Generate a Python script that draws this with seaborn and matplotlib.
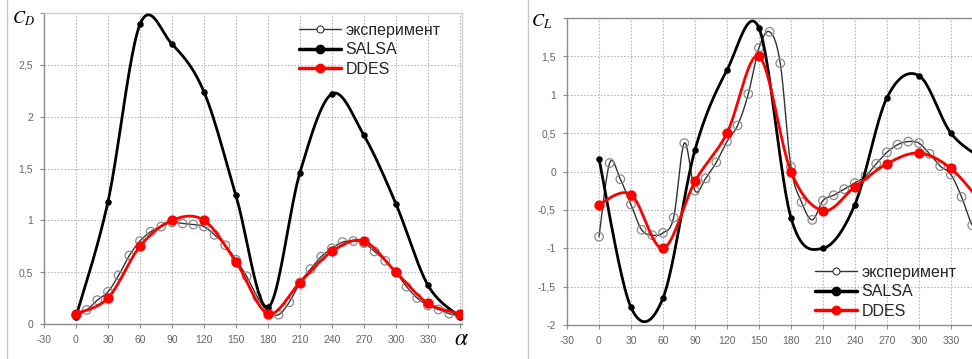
import numpy as np
import pandas as pd
import matplotlib
matplotlib.use("Agg")
import matplotlib.pyplot as plt
import seaborn as sns
from matplotlib.lines import Line2D

# ---------------- data ----------------
alpha_sim = [0, 30, 60, 90, 120, 150, 180, 210, 240, 270, 300, 330, 360]
alpha_exp = list(range(0, 361, 10))

cd_exp = [0.08, 0.135, 0.23, 0.31, 0.47, 0.66, 0.80, 0.89, 0.94, 0.98, 0.97, 0.96,
          0.94, 0.86, 0.76, 0.62, 0.46, 0.26, 0.12, 0.09, 0.21, 0.40, 0.53, 0.65,
          0.73, 0.79, 0.80, 0.78, 0.70, 0.61, 0.50, 0.36, 0.25, 0.18, 0.14, 0.10, 0.08]
cd_salsa = [0.07, 1.18, 2.89, 2.70, 2.24, 1.24, 0.16, 1.46, 2.22, 1.82, 1.16, 0.375, 0.07]
cd_ddes = [0.10, 0.25, 0.75, 1.00, 1.00, 0.60, 0.10, 0.40, 0.70, 0.80, 0.50, 0.20, 0.10]

cl_exp = [-0.85, 0.11, -0.10, -0.43, -0.76, -0.83, -0.80, -0.60, 0.37, -0.25, -0.09, 0.12,
          0.39, 0.60, 1.01, 1.61, 1.82, 1.41, 0.06, -0.40, -0.63, -0.38, -0.31, -0.23,
          -0.15, -0.06, 0.10, 0.25, 0.35, 0.39, 0.37, 0.23, 0.07, -0.04, -0.33, -0.70, -0.85]
cl_salsa = [0.165, -1.77, -1.65, 0.28, 1.32, 1.87, -0.60, -1.00, -0.43, 0.96, 1.25, 0.50, 0.16]
cl_ddes = [-0.43, -0.30, -1.00, -0.13, 0.50, 1.50, 0.00, -0.51, -0.20, 0.10, 0.24, 0.04, -0.43]

x_ticks = [-30, 0, 30, 60, 90, 120, 150, 180, 210, 240, 270, 300, 330, 360]
x_ticklabels_cd = ["-30", "0", "30", "60", "90", "120", "150", "180", "210", "240",
                   "270", "300", "330", ""]
x_ticklabels_cl = ["-30", "0", "30", "60", "90", "120", "150", "180", "210", "240",
                   "270", "300", "330", "360"]
cd_yticks = [0, 0.5, 1, 1.5, 2, 2.5, 3]
cd_yticklabels = ["0", "0,5", "1", "1,5", "2", "2,5", ""]
cl_yticks = [-2, -1.5, -1, -0.5, 0, 0.5, 1, 1.5, 2]
cl_yticklabels = ["-2", "-1,5", "-1", "-0,5", "0", "0,5", "1", "1,5", ""]

legend_labels = ["эксперимент", "SALSA", "DDES"]


def smooth(x, y, n=24):
    """Excel-style smoothed line through the given points (Bezier segments)."""
    P = np.column_stack([np.asarray(x, float), np.asarray(y, float)])
    out = [P[0]]
    t = np.linspace(0, 1, n)[1:, None]
    for i in range(len(P) - 1):
        p0 = P[i - 1] if i > 0 else P[i]
        p1, p2 = P[i], P[i + 1]
        p3 = P[i + 2] if i + 2 < len(P) else P[i + 1]
        c1 = p1 + (p2 - p0) / 6.0
        c2 = p2 - (p3 - p1) / 6.0
        seg = (1 - t) ** 3 * p1 + 3 * (1 - t) ** 2 * t * c1 + 3 * (1 - t) * t ** 2 * c2 + t ** 3 * p2
        out.extend(seg)
    out = np.array(out)
    return pd.DataFrame({"x": out[:, 0], "y": out[:, 1]})


sns.set_theme(style="white")
plt.rcParams["font.family"] = ["Liberation Sans", "DejaVu Sans"]
plt.rcParams["mathtext.fontset"] = "stix"

W, H = 972, 359
fig = plt.figure(figsize=(W / 100, H / 100), dpi=100)
fig.patch.set_facecolor("white")


def px_axes(x0, x1, y_top, y_bot):
    return fig.add_axes([x0 / W, (H - y_bot) / H, (x1 - x0) / W, (y_bot - y_top) / H])


ax1 = px_axes(44, 462, 13, 324)
ax2 = px_axes(567, 985, 18, 325)

grid_kw = dict(color="#b8b8b8", linestyle=(0, (1.5, 1.5)), linewidth=0.8)
tick_color = "#666666"


def draw(ax, exp, salsa, ddes):
    # experiment
    sns.lineplot(data=smooth(alpha_exp, exp), x="x", y="y", sort=False, estimator=None,
                 color="#333333", linewidth=1.0, ax=ax, zorder=3)
    sns.scatterplot(x=alpha_exp, y=exp, marker="o", s=38, facecolors="none",
                    edgecolors="#8a8a8a", linewidths=0.9, ax=ax, zorder=4)
    # SALSA
    sns.lineplot(data=smooth(alpha_sim, salsa), x="x", y="y", sort=False, estimator=None,
                 color="black", linewidth=2.0, ax=ax, zorder=5)
    sns.scatterplot(x=alpha_sim, y=salsa, marker="o", s=22, color="black",
                    edgecolor="black", linewidth=0, ax=ax, zorder=6)
    # DDES
    sns.lineplot(data=smooth(alpha_sim, ddes), x="x", y="y", sort=False, estimator=None,
                 color="#ff0000", linewidth=2.0, ax=ax, zorder=7)
    sns.scatterplot(x=alpha_sim, y=ddes, marker="o", s=55, color="#ff0000",
                    edgecolor="#ff0000", linewidth=0, ax=ax, zorder=8)


def style(ax, yticks, yticklabels, xticklabels, ylim, xlim, top_color):
    ax.set_xlim(*xlim)
    ax.set_ylim(*ylim)
    ax.set_xticks(x_ticks)
    ax.set_xticklabels(xticklabels)
    ax.set_yticks(yticks)
    ax.set_yticklabels(yticklabels)
    ax.set_xlabel("")
    ax.set_ylabel("")
    for xv in x_ticks[1:]:
        ax.axvline(xv, zorder=1, **grid_kw)
    for yv in yticks[1:]:
        ax.axhline(yv, zorder=1, **grid_kw)
    for s in ["left", "bottom"]:
        ax.spines[s].set_color("#8c8c8c")
        ax.spines[s].set_linewidth(1.0)
    ax.spines["top"].set_color(top_color)
    ax.spines["right"].set_color(top_color)
    ax.spines["top"].set_linewidth(1.0)
    ax.spines["right"].set_linewidth(1.0)
    ax.tick_params(axis="both", which="major", direction="out", length=3, width=0.8,
                   color="#8c8c8c", labelsize=7.5, labelcolor=tick_color, pad=5,
                   bottom=True, left=True)
    ax.patch.set_alpha(0)


draw(ax1, cd_exp, cd_salsa, cd_ddes)
style(ax1, cd_yticks, cd_yticklabels, x_ticklabels_cd, (0, 3), (-30, 362), "#d0d0d0")

draw(ax2, cl_exp, cl_salsa, cl_ddes)
style(ax2, cl_yticks, cl_yticklabels, x_ticklabels_cl, (-2, 2), (-30, 362), "#8c8c8c")

# axis titles
fig.text(12 / W, 1 - 19 / H, r"$C_D$", fontsize=13, color="black", va="center", ha="left")
fig.text(531 / W, 1 - 22 / H, r"$C_L$", fontsize=13, color="black", va="center", ha="left")
fig.text(461 / W, 1 - 339 / H, r"$\alpha$", fontsize=17, color="black", va="center", ha="center")

# legends
handles = [
    Line2D([], [], color="#333333", linewidth=1.0, marker="o", markersize=5,
           markerfacecolor="white", markeredgecolor="#333333", markeredgewidth=0.8),
    Line2D([], [], color="black", linewidth=2.5, marker="o", markersize=6,
           markerfacecolor="black", markeredgecolor="black"),
    Line2D([], [], color="#ff0000", linewidth=2.5, marker="o", markersize=6,
           markerfacecolor="#ff0000", markeredgecolor="#ff0000"),
]
leg_kw = dict(frameon=False, fontsize=11.5, handlelength=2.6, handletextpad=0.3,
              labelspacing=0.28, borderpad=0, borderaxespad=0, loc="upper left")
leg1 = fig.legend(handles, legend_labels, bbox_to_anchor=(299 / W, 1 - 23 / H), **leg_kw)
leg2 = fig.legend(handles, legend_labels, bbox_to_anchor=(815 / W, 1 - 265 / H), **leg_kw)

# panel borders
fig.add_artist(Line2D([7 / W, 7 / W], [0, 1], color="#c8c8c8", linewidth=1.0))
fig.add_artist(Line2D([528 / W, 528 / W], [0, 1], color="#c8c8c8", linewidth=1.0))

fig.savefig("out.png", dpi=100, facecolor="white")
